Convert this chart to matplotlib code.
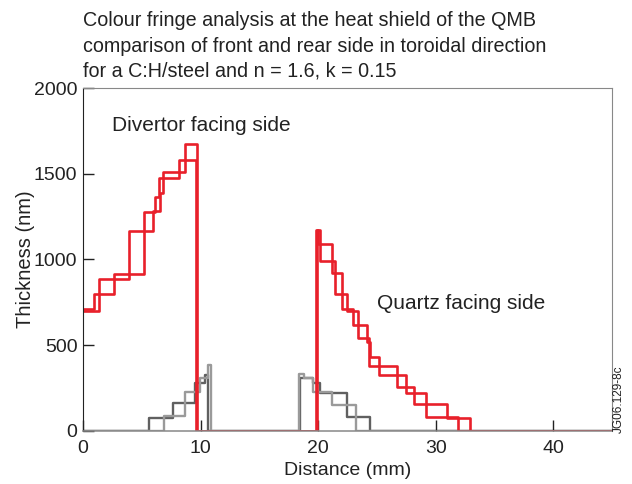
import matplotlib
matplotlib.use("Agg")
import matplotlib.pyplot as plt

plt.rcParams['font.family'] = ['Liberation Sans', 'DejaVu Sans']

# Red step profiles (thickness in nm vs distance in mm), steps-post
red_a_x = [0, 0.94, 2.64, 5.19, 6.12, 6.43, 8.16, 9.58, 19.81, 20.0, 21.2, 22.0,
           22.99, 24.2, 24.4, 25.2, 27.47, 29.17, 31.9, 45]
red_a_y = [710, 798, 916, 1278, 1364, 1477, 1580, 0, 1171, 1090, 918, 708,
           617, 520, 432, 325, 222, 78, 0, 0]

red_b_x = [0, 1.39, 3.94, 5.92, 6.55, 6.83, 8.64, 9.68, 19.93, 20.15, 21.43,
           22.42, 23.41, 24.3, 26.67, 28.15, 30.98, 32.9, 45]
red_b_y = [700, 885, 1165, 1282, 1387, 1512, 1671, 0, 1171, 992, 798,
           700, 539, 379, 253, 156, 72, 0, 0]

# Grey step profiles
grey_dark_x = [0, 5.64, 7.68, 9.52, 10.37, 10.66, 18.5, 19.59, 20.15, 22.42, 24.4, 45]
grey_dark_y = [0, 74, 160, 277, 325, 0, 306, 277, 218, 82, 0, 0]

grey_light_x = [0, 6.89, 8.67, 9.95, 10.66, 10.88, 18.4, 18.82, 19.59, 21.15, 23.21, 45]
grey_light_y = [0, 86, 228, 306, 383, 0, 331, 306, 228, 150, 0, 0]

title_lines = ["Colour fringe analysis at the heat shield of the QMB",
               "comparison of front and rear side in toroidal direction",
               "for a C:H/steel and n = 1.6, k = 0.15"]

W, H = 632, 484
fig = plt.figure(figsize=(W / 100, H / 100), dpi=100)
ax = fig.add_axes([83 / W, 1 - 430.7 / H, (612 - 83) / W, (430.7 - 88) / H])

red = "#e8202a"
ax.step(grey_dark_x, grey_dark_y, where="post", color="#606060", lw=1.7, zorder=1.5)
ax.step(grey_light_x, grey_light_y, where="post", color="#9a9a9a", lw=1.7, zorder=1.5)
ax.step(red_a_x, red_a_y, where="post", color=red, lw=1.9, zorder=2)
ax.step(red_b_x, red_b_y, where="post", color=red, lw=1.9, zorder=2)

ax.set_xlim(0, 45)
ax.set_ylim(0, 2000)
ax.set_xticks([0, 10, 20, 30, 40])
ax.set_yticks([0, 500, 1000, 1500, 2000])
ax.tick_params(direction="in", length=8, width=1, labelsize=14,
               top=False, right=False, colors="#222222")
ax.tick_params(axis="x", pad=6.5)
ax.tick_params(axis="y", pad=4)

for side in ["top", "right", "bottom"]:
    ax.spines[side].set_color("#888888")
ax.spines["bottom"].set_linewidth(1.1)
ax.spines["left"].set_color("#222222")

ax.set_xlabel("Distance (mm)", fontsize=14, color="#222222", labelpad=4)
ax.set_ylabel("Thickness (nm)", fontsize=14.5, color="#222222", labelpad=-1)

ax.text(2.47, 1784, "Divertor facing side", fontsize=15, color="#222222",
        ha="left", va="center")
ax.text(25.0, 745, "Quartz facing side", fontsize=15, color="#222222",
        ha="left", va="center")

for i, line in enumerate(title_lines):
    fig.text(83 / W, 1 - (21 + 25 * i) / H, line, fontsize=14.2, color="#222222",
             ha="left", va="center")

fig.text(619 / W, 1 - 433 / H, "JG06.129-8c", fontsize=8.5, color="#222222",
         rotation=90, ha="center", va="bottom")

fig.savefig("out.png", dpi=100)
